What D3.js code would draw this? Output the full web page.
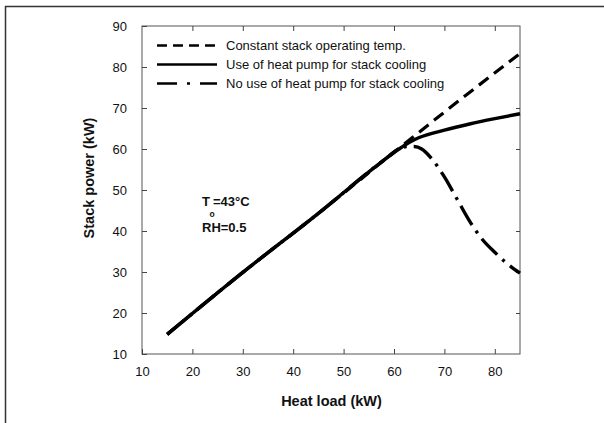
<!DOCTYPE html>
<html>
<head>
<meta charset="utf-8">
<script src="https://cdn.jsdelivr.net/npm/d3@7"></script>
<style>
  html, body { margin: 0; padding: 0; background: #fff; }
  svg { display: block; font-family: "Liberation Sans", Arial, sans-serif; }
</style>
</head>
<body>
<svg id="chart" width="604" height="423"></svg>
<script>
// ---- data ----
const xTicks = [10, 20, 30, 40, 50, 60, 70, 80];
const yTicks = [10, 20, 30, 40, 50, 60, 70, 80, 90];

const constHeat  = [15, 30, 45, 60, 70, 85];
const constPower = [14.8, 29.9, 44.3, 59.2, 69.0, 83.3];

const hpHeat  = [15, 30, 45, 58, 61, 63, 65, 70, 75, 80, 85];
const hpPower = [14.8, 29.9, 44.3, 57.3, 60.0, 61.6, 62.8, 64.6, 66.1, 67.4, 68.6];

const noHpHeat  = [15, 30, 45, 58, 61, 62.5, 64, 65.5, 67.5, 70, 72.5, 75, 77.5, 80, 82.5, 85];
const noHpPower = [14.8, 29.9, 44.3, 57.3, 60.0, 60.6, 60.6, 60.0, 57.6, 53.2, 47.8, 42.4, 38.0, 34.8, 32.0, 29.7];

const seriesNames = [
  "Constant stack operating temp.",
  "Use of heat pump for stack cooling",
  "No use of heat pump for stack cooling"
];

// ---- layout ----
const svg = d3.select("#chart");
const L = 142, R = 520, T = 26, B = 354;
const x = d3.scaleLinear().domain([10, 85]).range([L, R]);
const y = d3.scaleLinear().domain([10, 90]).range([B, T]);

// outer frame (scan border)
svg.append("line").attr("x1", 5).attr("x2", 604).attr("y1", 6.5).attr("y2", 6.5)
  .attr("stroke", "#333").attr("stroke-width", 1.5);
svg.append("line").attr("x1", 5.5).attr("x2", 5.5).attr("y1", 6).attr("y2", 423)
  .attr("stroke", "#333").attr("stroke-width", 1.5);

// plot frame
svg.append("rect").attr("x", L).attr("y", T).attr("width", R - L).attr("height", B - T)
  .attr("fill", "none").attr("stroke", "#555").attr("stroke-width", 1);

// axes (inside ticks)
const axB = svg.append("g").attr("transform", `translate(0,${B})`)
  .call(d3.axisBottom(x).tickValues(xTicks).tickSizeInner(-5).tickSizeOuter(0).tickPadding(13));
const axL = svg.append("g").attr("transform", `translate(${L},0)`)
  .call(d3.axisLeft(y).tickValues(yTicks).tickSizeInner(-5).tickSizeOuter(0).tickPadding(15));
const axT = svg.append("g").attr("transform", `translate(0,${T})`)
  .call(d3.axisTop(x).tickValues(xTicks.slice(1)).tickSizeInner(-5).tickSizeOuter(0).tickFormat(""));
const axR = svg.append("g").attr("transform", `translate(${R},0)`)
  .call(d3.axisRight(y).tickValues(yTicks.slice(1, -1)).tickSizeInner(-4).tickSizeOuter(0).tickFormat(""));

[axB, axL, axT, axR].forEach(g => {
  g.select(".domain").remove();
  g.selectAll(".tick line").attr("stroke", "#444");
  g.selectAll("text").attr("font-size", 13).attr("fill", "#111")
    .attr("font-family", "'Liberation Sans', Arial, sans-serif");
});

// curves
const mk = (xs, ys) => xs.map((v, i) => [v, ys[i]]);
const line = d3.line().x(d => x(d[0])).y(d => y(d[1])).curve(d3.curveMonotoneX);

svg.append("path").datum(mk(constHeat, constPower)).attr("d", line)
  .attr("fill", "none").attr("stroke", "#000").attr("stroke-width", 3.2)
  .attr("stroke-dasharray", "12,7");
svg.append("path").datum(mk(noHpHeat, noHpPower)).attr("d", line)
  .attr("fill", "none").attr("stroke", "#000").attr("stroke-width", 3.4)
  .attr("stroke-dasharray", "22,7,3,7");
svg.append("path").datum(mk(hpHeat, hpPower)).attr("d", line)
  .attr("fill", "none").attr("stroke", "#000").attr("stroke-width", 3.4);

// legend
const legendDash = ["10,6", null, "20,10,3,10"];
const leg = svg.append("g");
seriesNames.forEach((name, i) => {
  const by = 50 + i * 19;
  const l = leg.append("line").attr("x1", 157).attr("x2", 217)
    .attr("y1", by - 4.5).attr("y2", by - 4.5)
    .attr("stroke", "#000").attr("stroke-width", 2.6);
  if (legendDash[i]) l.attr("stroke-dasharray", legendDash[i]);
  leg.append("text").attr("x", 226).attr("y", by).attr("font-size", 13)
    .attr("fill", "#111").text(name);
});

// annotation
const ann = svg.append("g").attr("font-weight", "bold").attr("font-size", 13).attr("fill", "#111");
ann.append("text").attr("x", 202).attr("y", 205.5).text("T");
ann.append("text").attr("x", 209.5).attr("y", 216.5).attr("font-size", 8.5).text("o");
ann.append("text").attr("x", 213).attr("y", 205.5).text("=43°C");
ann.append("text").attr("x", 202).attr("y", 232).text("RH=0.5");

// axis titles
svg.append("text").attr("x", (L + R) / 2 + 0.5).attr("y", 405.5).attr("text-anchor", "middle")
  .attr("font-weight", "bold").attr("font-size", 14.5).attr("fill", "#111").text("Heat load (kW)");
svg.append("text").attr("transform", `translate(94,178) rotate(-90)`).attr("text-anchor", "middle")
  .attr("font-weight", "bold").attr("font-size", 14.5).attr("fill", "#111").text("Stack power (kW)");
</script>
</body>
</html>
